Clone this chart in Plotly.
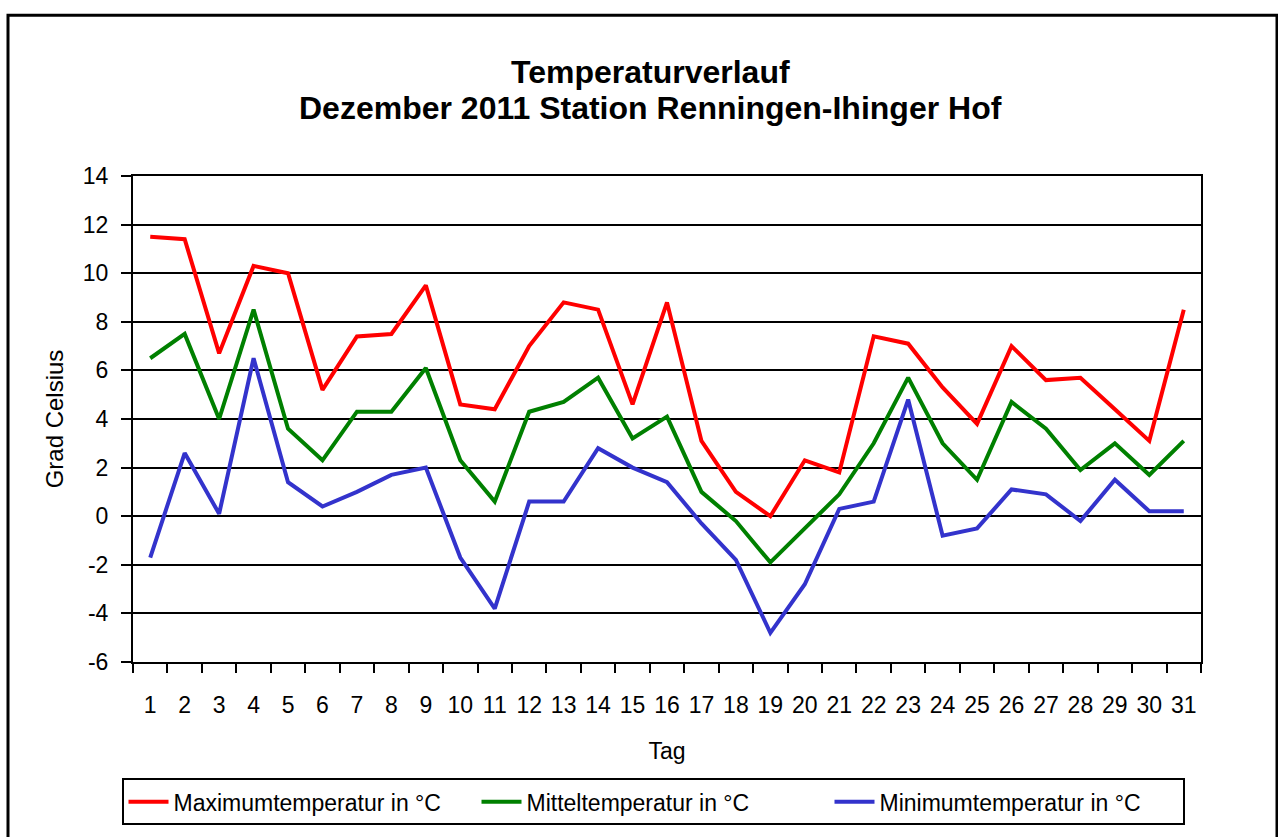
import plotly.graph_objects as go

days = list(range(1, 32))
tmax = [11.5, 11.4, 6.7, 10.3, 10.0, 5.2, 7.4, 7.5, 9.5, 4.6,
        4.4, 7.0, 8.8, 8.5, 4.6, 8.8, 3.1, 1.0, 0.0, 2.3,
        1.8, 7.4, 7.1, 5.3, 3.8, 7.0, 5.6, 5.7, 4.4, 3.1, 8.5]
tmean = [6.5, 7.5, 4.0, 8.5, 3.6, 2.3, 4.3, 4.3, 6.1, 2.3,
         0.6, 4.3, 4.7, 5.7, 3.2, 4.1, 1.0, -0.2, -1.9, -0.5,
         0.9, 3.0, 5.7, 3.0, 1.5, 4.7, 3.6, 1.9, 3.0, 1.7, 3.1]
tmin = [-1.7, 2.6, 0.1, 6.5, 1.4, 0.4, 1.0, 1.7, 2.0, -1.7,
        -3.8, 0.6, 0.6, 2.8, 2.0, 1.4, -0.3, -1.8, -4.8, -2.8,
        0.3, 0.6, 4.8, -0.8, -0.5, 1.1, 0.9, -0.2, 1.5, 0.2, 0.2]
y_ticks = [-6, -4, -2, 0, 2, 4, 6, 8, 10, 12, 14]
y_ticklabels = ["-6", "-4", "-2", "0", "2", "4", "6", "8", "10", "12", "14"]

names = ["Maximumtemperatur in °C", "Mitteltemperatur in °C", "Minimumtemperatur in °C"]
colors = ["#FF0000", "#008000", "#3333CC"]
title_lines = ["Temperaturverlauf", "Dezember 2011 Station Renningen-Ihinger Hof"]

font = "Liberation Sans, Arial, sans-serif"

fig = go.Figure()
for vals, name, col in zip([tmax, tmean, tmin], names, colors):
    fig.add_trace(go.Scatter(x=days, y=vals, mode="lines", name=name,
                             line=dict(color=col, width=4)))

L, R, T, B = 133, 1201, 176, 669
W, H = 1278, 837
pw, ph = R - L, B - T

fig.update_layout(
    width=W, height=H,
    margin=dict(l=L, r=W - R, t=T, b=H - B, pad=0),
    paper_bgcolor="white", plot_bgcolor="white",
    font=dict(family=font, size=23, color="black"),
    showlegend=True,
    legend=dict(orientation="h", x=(653 - L) / pw, xanchor="center",
                y=(B - 787) / ph, yanchor="top",
                bordercolor="black", borderwidth=2,
                font=dict(family=font, size=23, color="black"),
                entrywidth=298, entrywidthmode="pixels",
                itemwidth=40, tracegroupgap=0,
                traceorder="normal"),
)

for txt, yc in zip(title_lines, [71, 107]):
    fig.add_annotation(text="<b>%s</b>" % txt, xref="paper", yref="paper",
                       x=(650 - L) / pw, y=(B - yc) / ph,
                       xanchor="center", yanchor="middle", showarrow=False,
                       font=dict(family=font, size=32, color="black"))

fig.update_xaxes(
    range=[0.5, 31.5], tickmode="array", tickvals=days,
    ticktext=[str(d) for d in days], ticks="",
    showgrid=False, zeroline=False,
    showline=True, linecolor="black", linewidth=2, mirror=True,
    tickfont=dict(size=23), ticklabelstandoff=21,
    minor=dict(tickmode="linear", tick0=0.5, dtick=1, ticks="outside",
               ticklen=9, tickwidth=2, tickcolor="black", showgrid=False),
    title=dict(text="Tag", font=dict(size=23), standoff=26),
)
fig.update_yaxes(
    range=[-6, 14], tickmode="array", tickvals=y_ticks, ticktext=y_ticklabels,
    ticks="outside", ticklen=10, tickwidth=2, tickcolor="black",
    showgrid=True, gridcolor="black", gridwidth=2,
    zeroline=True, zerolinecolor="black", zerolinewidth=2,
    showline=True, linecolor="black", linewidth=2, mirror=True,
    tickfont=dict(size=23), ticklabelstandoff=8,
    title=dict(text="Grad Celsius", font=dict(size=24), standoff=12),
)

# outer chart border
fig.add_shape(type="rect", xref="paper", yref="paper",
              x0=(8 - L) / pw, x1=(1277 - L) / pw,
              y0=(B - 950) / ph, y1=(B - 13) / ph,
              line=dict(color="black", width=3), layer="below")

fig.write_html("out.html", config={"displayModeBar": False},
               post_script="document.body.style.margin='0';document.body.style.overflow='hidden';")
